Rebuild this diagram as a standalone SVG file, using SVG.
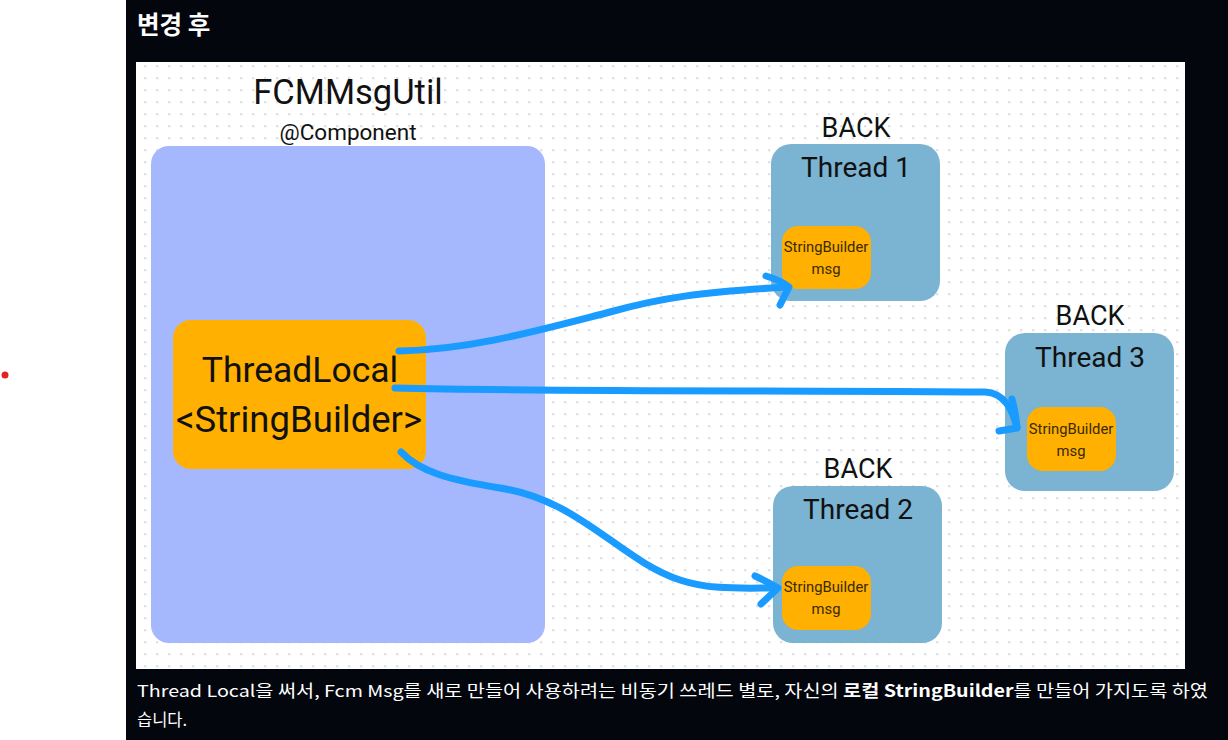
<svg xmlns="http://www.w3.org/2000/svg" width="1228" height="740" viewBox="0 0 1228 740">
<style>
.t{font-family:Roboto,"Liberation Sans",sans-serif;fill:#111;text-anchor:middle}
.thread{fill:#7bb3d3}
.sb{fill:#ffb000}
.small{font-size:14.8px;fill:#3a2a00}
.conn path{fill:none;stroke:#1a9bff;stroke-width:7;stroke-linecap:round;stroke-linejoin:round}
.kr{font-family:"Noto Sans CJK KR","Noto Sans",sans-serif;fill:#fff}
</style>
<defs>
<pattern id="dots" x="144" y="65" width="12" height="12" patternUnits="userSpaceOnUse">
<rect x="0" y="0" width="2.4" height="2.4" fill="#e0e2e8"/>
</pattern>
</defs>
<rect x="0" y="0" width="1228" height="740" fill="#ffffff"/>
<circle cx="5" cy="375" r="3.5" fill="#e02424"/>
<rect x="126" y="0" width="1102" height="740" fill="#03060c"/>
<text x="137" y="34" class="kr" font-size="24.5" font-weight="bold">변경 후</text>
<rect x="136" y="62" width="1049" height="607" fill="#ffffff"/>
<rect x="136" y="62" width="1049" height="607" fill="url(#dots)"/>

<g id="fcmmsgutil">
<rect x="151" y="146" width="394" height="497" rx="18" fill="#a6b8fd"/>
<text x="348" y="104" class="t" font-size="34.5">FCMMsgUtil</text>
<text x="348" y="140" class="t" font-size="22.5">@Component</text>
</g>
<g id="threadlocal">
<rect x="173" y="320" width="253" height="149" rx="18" class="sb"/>
<text x="300" y="382" class="t" font-size="35.5">ThreadLocal</text>
<text x="299" y="432" class="t" font-size="36.5">&lt;StringBuilder&gt;</text>
</g>
<g id="thread1">
<text x="856" y="137" class="t" font-size="27">BACK</text>
<rect x="771" y="144" width="169" height="157" rx="20" class="thread"/>
<text x="856" y="177" class="t" font-size="28">Thread 1</text>
<rect x="782" y="226" width="89" height="63" rx="16" class="sb"/>
<text x="826" y="252" class="t small">StringBuilder</text>
<text x="826" y="274" class="t small">msg</text>
</g>
<g id="thread3">
<text x="1090" y="325" class="t" font-size="27">BACK</text>
<rect x="1005" y="333" width="169" height="158" rx="20" class="thread"/>
<text x="1090" y="367" class="t" font-size="28">Thread 3</text>
<rect x="1027" y="407" width="89" height="64" rx="16" class="sb"/>
<text x="1071" y="434" class="t small">StringBuilder</text>
<text x="1071" y="456" class="t small">msg</text>
</g>
<g id="thread2">
<text x="858" y="478" class="t" font-size="27">BACK</text>
<rect x="773" y="486" width="169" height="157" rx="20" class="thread"/>
<text x="858" y="519" class="t" font-size="28">Thread 2</text>
<rect x="782" y="566" width="89" height="64" rx="16" class="sb"/>
<text x="826" y="592" class="t small">StringBuilder</text>
<text x="826" y="614" class="t small">msg</text>
</g>

<g class="conn" id="connectors">
<path d="M399,351 C470,350 540,330 610,312 C660,298 700,292 788,287"/>
<path d="M766,276 Q780,280 789,287 L780,305"/>
<path d="M395,388 C560,392 800,390 985,392 C1005,393 1012,410 1017,427"/>
<path d="M1012,399 Q1016,415 1017,428 L999,431"/>
<path d="M401,452 C420,472 450,480 500,488 C580,500 620,560 680,580 C710,590 740,588 777,588"/>
<path d="M755,576 Q768,582 778,588 L761,604"/>
</g>

<text x="137" y="697" class="kr" font-size="16.5" textLength="1071" lengthAdjust="spacingAndGlyphs">Thread Local을 써서, Fcm Msg를 새로 만들어 사용하려는 비동기 쓰레드 별로, 자신의 <tspan font-weight="bold">로컬 StringBuilder</tspan>를 만들어 가지도록 하였</text>
<text x="137" y="726" class="kr" font-size="16.5">습니다.</text>
</svg>
